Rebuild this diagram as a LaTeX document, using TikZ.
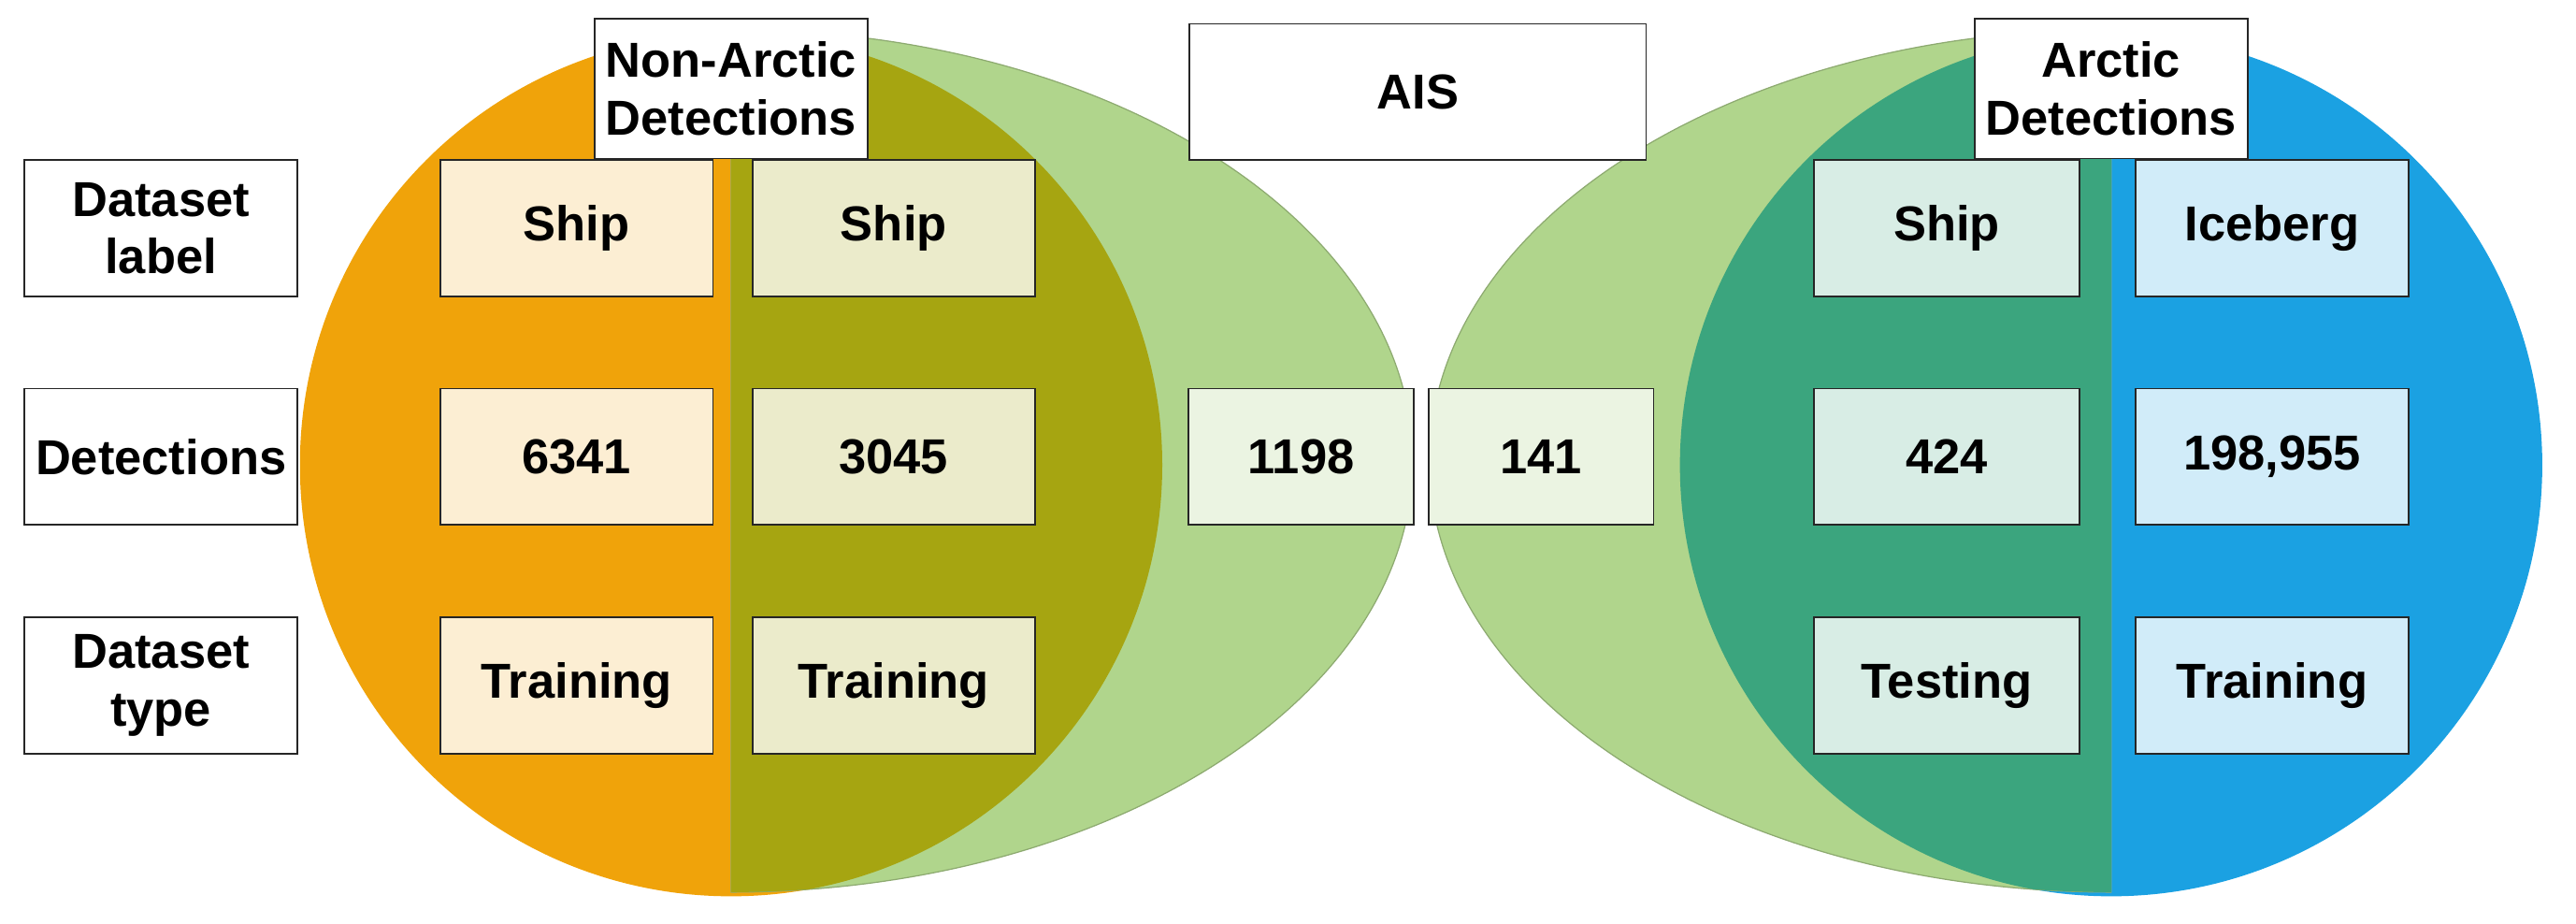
\documentclass[tikz,border=0pt]{standalone}
\usepackage{fontspec}
\setmainfont{Liberation Sans}
\begin{document}
\begin{tikzpicture}[x=0.02cm,y=-0.02cm,
 bx/.style={draw=black!85,line width=0.6pt,inner sep=0pt,align=center,font=\fontsize{17}{20}\selectfont\bfseries},
 hd/.style={bx,fill=white}]
\definecolor{orng}{HTML}{F0A30A}
\definecolor{grn}{HTML}{B0D58C}
\definecolor{olv}{HTML}{A6A511}
\definecolor{tel}{HTML}{3BA57E}
\definecolor{blu}{HTML}{1BA1E2}
\useasboundingbox (0,0) rectangle (1568,562);
% left
\fill[orng] (445,283) circle[radius=5.25cm];
\fill[grn,draw=grn!80!black,line width=0.4pt] (445,18) arc[start angle=90,end angle=-90,x radius=8.3cm,y radius=5.25cm] -- cycle;
\begin{scope}
\clip (445,283) circle[radius=5.25cm];
\fill[olv] (445,18) arc[start angle=90,end angle=-90,x radius=8.3cm,y radius=5.25cm] -- cycle;
\end{scope}
% right
\fill[blu] (1285,283) circle[radius=5.25cm];
\fill[grn,draw=grn!80!black,line width=0.4pt] (1285,18) arc[start angle=90,end angle=270,x radius=8.3cm,y radius=5.25cm] -- cycle;
\begin{scope}
\clip (1285,283) circle[radius=5.25cm];
\fill[tel] (1285,18) arc[start angle=90,end angle=270,x radius=8.3cm,y radius=5.25cm] -- cycle;
\end{scope}
% headers
\node[hd,minimum width=3.32cm,minimum height=1.66cm] (l1) at (98,139) {Dataset\\label};
\node[hd,minimum width=3.32cm,minimum height=1.66cm] (l2) at (98,278) {Detections};
\node[hd,minimum width=3.32cm,minimum height=1.66cm] (l3) at (98,417) {Dataset\\type};
\node[hd,minimum width=3.32cm,minimum height=1.7cm] (na) at (445,54) {Non-Arctic\\Detections};
\node[hd,minimum width=3.32cm,minimum height=1.7cm] (ar) at (1285,54) {Arctic\\Detections};
\node[hd,minimum width=5.56cm,minimum height=1.66cm] (ais) at (863,56) {AIS};
% boxes
\tikzset{c1/.style={bx,fill=orng!18,minimum width=3.32cm,minimum height=1.66cm},
 c2/.style={bx,fill=olv!22,minimum width=3.44cm,minimum height=1.66cm},
 c3/.style={bx,fill=grn!25,minimum width=2.74cm,minimum height=1.66cm},
 c5/.style={bx,fill=tel!20,minimum width=3.24cm,minimum height=1.66cm},
 c6/.style={bx,fill=blu!20,minimum width=3.32cm,minimum height=1.66cm}}
\node[c1] (a1) at (351,139) {Ship};
\node[c1] (a2) at (351,278) {6341};
\node[c1] (a3) at (351,417) {Training};
\node[c2] (b1) at (544,139) {Ship};
\node[c2] (b2) at (544,278) {3045};
\node[c2] (b3) at (544,417) {Training};
\node[c3] (m1) at (792,278) {1198};
\node[c3] (m2) at (938,278) {141};
\node[c5] (d1) at (1185,139) {Ship};
\node[c5] (d2) at (1185,278) {424};
\node[c5] (d3) at (1185,417) {Testing};
\node[c6] (e1) at (1383,139) {Iceberg};
\node[c6] (e2) at (1383,278) {198,955};
\node[c6] (e3) at (1383,417) {Training};
\end{tikzpicture}
\end{document}
